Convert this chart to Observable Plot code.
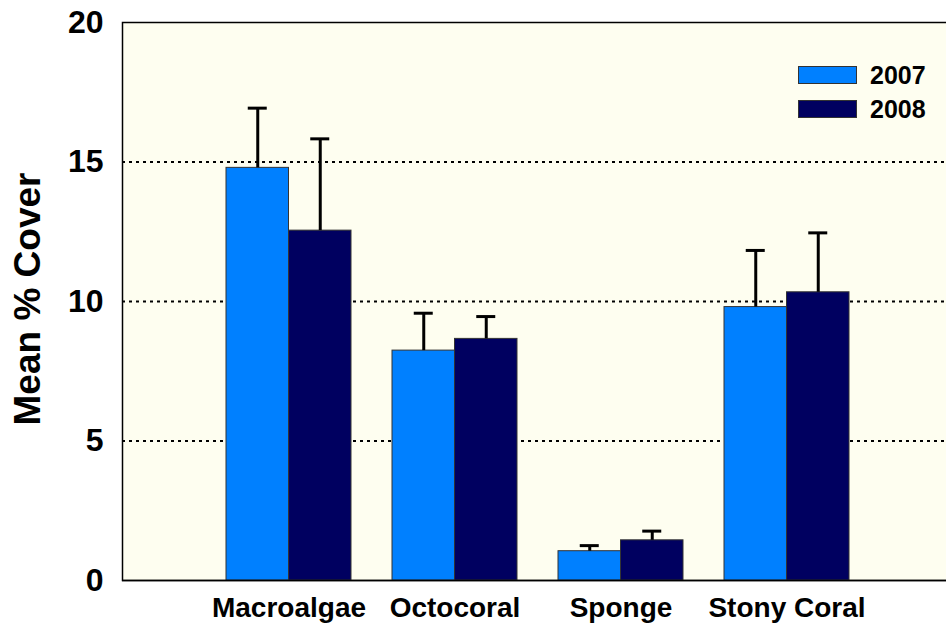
<!DOCTYPE html>
<html>
<head>
<meta charset="utf-8">
<script src="https://cdn.jsdelivr.net/npm/d3@7"></script>
<script src="https://cdn.jsdelivr.net/npm/@observablehq/plot@0.6"></script>
<style>
  body { margin: 0; background: #fff; font-family: "Liberation Sans", Arial, sans-serif; }
  #wrap { position: relative; width: 946px; height: 624px; }
  #legend { position: absolute; left: 798px; top: 58px; font-weight: bold; font-size: 25px; line-height: 1; }
  .item { display: flex; align-items: center; height: 34px; }
  .sw { width: 57px; height: 16px; border: 1px solid #333; margin-right: 13px; }
  #ylabel { position: absolute; left: 27px; top: 299px; transform: translate(-50%, -50%) rotate(-90deg);
            white-space: nowrap; font-weight: bold; font-size: 37px; line-height: 1; }
</style>
</head>
<body>
<div id="wrap"><div id="legend"></div><div id="ylabel">Mean % Cover</div></div>
<script>
const categories = ["Macroalgae", "Octocoral", "Sponge", "Stony Coral"];
const years = ["2007", "2008"];
const mean2007 = [14.79, 8.24, 1.05, 9.80];
const upper2007 = [16.93, 9.58, 1.25, 11.83];
const mean2008 = [12.54, 8.66, 1.44, 10.33];
const upper2008 = [15.83, 9.46, 1.77, 12.46];
const yTicks = [0, 5, 10, 15, 20];
const colors = {"2007": "#0080FF", "2008": "#000060"};

const d07 = categories.map((c, i) => ({cat: c, year: "2007", v: mean2007[i], up: upper2007[i]}));
const d08 = categories.map((c, i) => ({cat: c, year: "2008", v: mean2008[i], up: upper2008[i]}));

const bw = 125, half = bw / 2, q = bw / 4, capIn = (bw - 19) / 2;
const font = "Liberation Sans, Arial, sans-serif";

const chart = Plot.plot({
  width: 946, height: 624,
  marginLeft: 122, marginRight: 0, marginTop: 22, marginBottom: 44,
  style: {fontFamily: font, background: "transparent", overflow: "visible"},
  x: {domain: categories, range: [183, 892], padding: 0.25, axis: null},
  y: {domain: [0, 20], axis: null},
  marks: [
    Plot.frame({fill: "#FEFEF0", stroke: "black", strokeWidth: 1.5, insetRight: -3}),
    Plot.ruleY([5, 10, 15], {stroke: "black", strokeWidth: 2, strokeDasharray: "3,4"}),
    Plot.barY(d07, {x: "cat", y: "v", fill: colors["2007"], stroke: "#333", strokeWidth: 1, insetRight: half}),
    Plot.barY(d08, {x: "cat", y: "v", fill: colors["2008"], stroke: "#333", strokeWidth: 1, insetLeft: half}),
    Plot.ruleX(d07, {x: "cat", y1: "v", y2: "up", dx: -q, stroke: "black", strokeWidth: 3}),
    Plot.ruleX(d08, {x: "cat", y1: "v", y2: "up", dx: q, stroke: "black", strokeWidth: 3}),
    Plot.tickY(d07, {x: "cat", y: "up", dx: -q, insetLeft: capIn, insetRight: capIn, stroke: "black", strokeWidth: 3}),
    Plot.tickY(d08, {x: "cat", y: "up", dx: q, insetLeft: capIn, insetRight: capIn, stroke: "black", strokeWidth: 3}),
    Plot.ruleY([0], {stroke: "black", strokeWidth: 1.5}),
    Plot.axisY({ticks: yTicks, tickSize: 0, tickPadding: 19, fontSize: 32, fontWeight: "bold", fill: "black", label: null}),
    Plot.axisX({tickSize: 0, tickPadding: 17, fontSize: 28, fontWeight: "bold", fill: "black", label: null})
  ]
});
document.getElementById("wrap").prepend(chart);

const legend = document.getElementById("legend");
years.forEach(y => {
  const item = document.createElement("div");
  item.className = "item";
  const sw = document.createElement("div");
  sw.className = "sw";
  sw.style.background = colors[y];
  const t = document.createElement("span");
  t.textContent = y;
  item.append(sw, t);
  legend.append(item);
});
</script>
</body>
</html>
